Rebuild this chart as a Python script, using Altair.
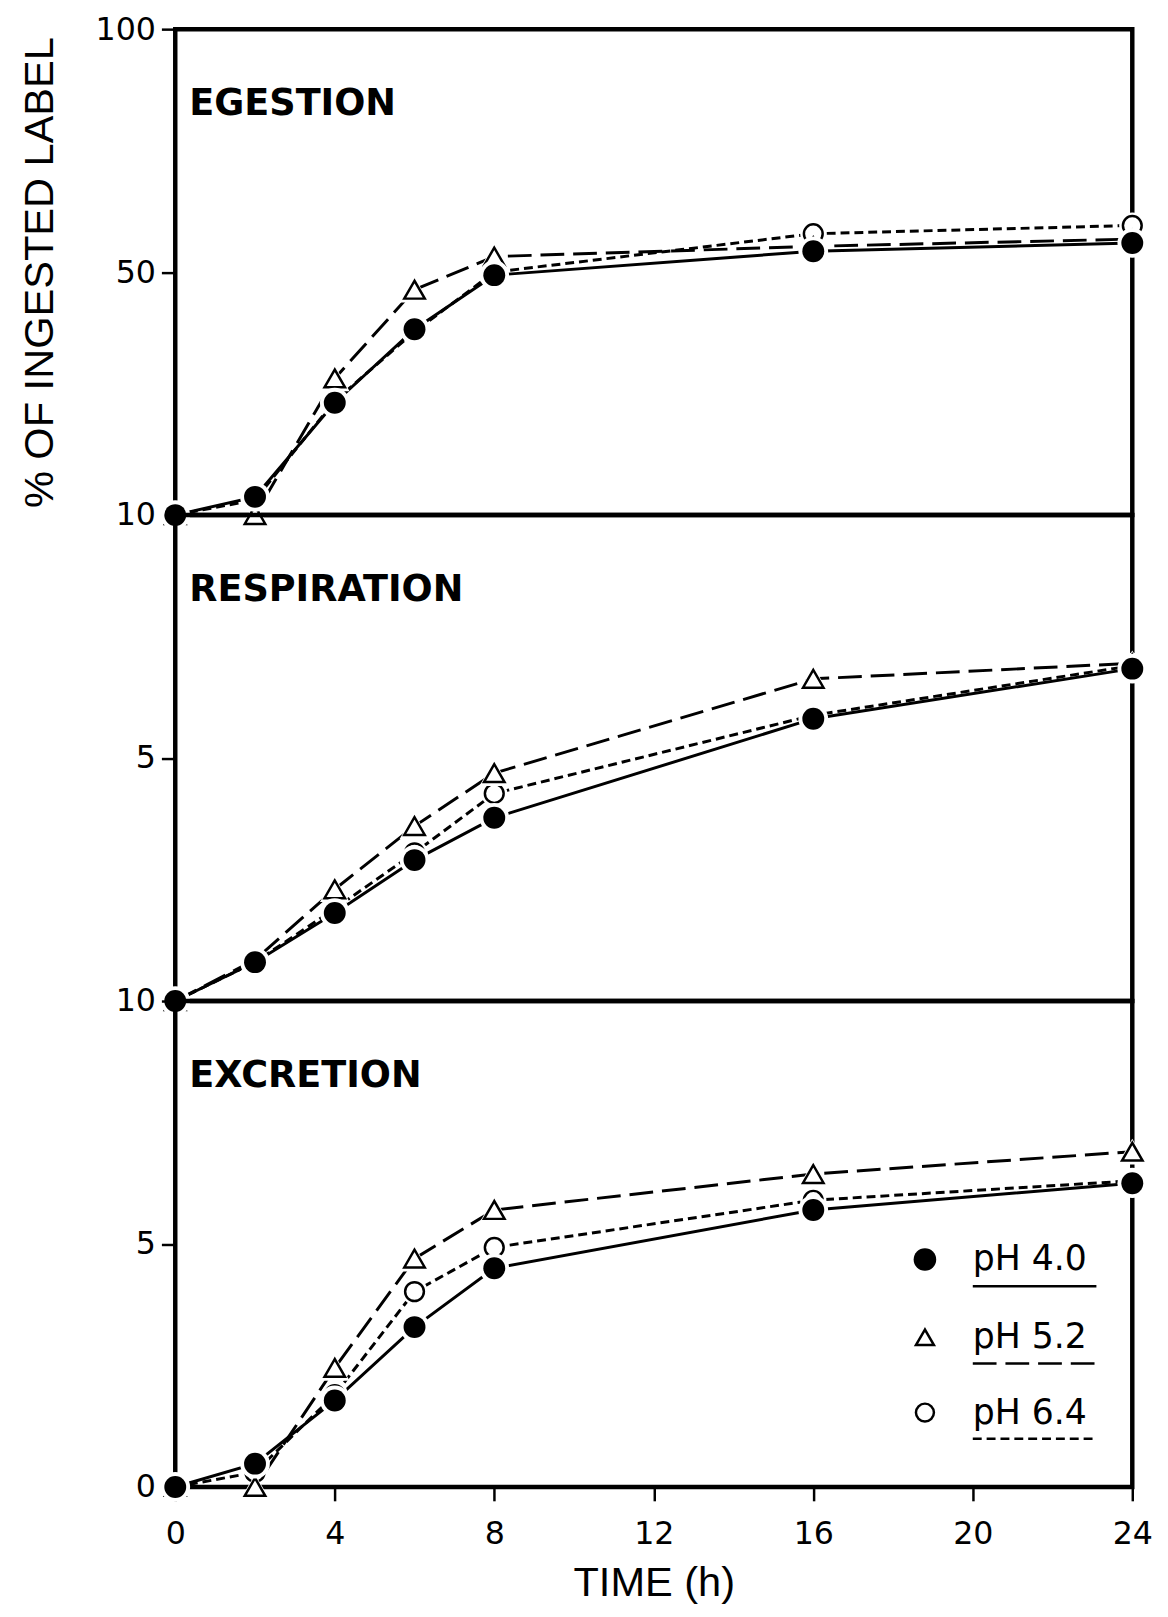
import altair as alt
import pandas as pd

# ---------------- data ----------------
time_h = [0, 2, 4, 6, 8, 16, 24]
series_names = ["pH 4.0", "pH 5.2", "pH 6.4"]

egestion_ph40 = [10.0, 13.0, 28.5, 40.6, 49.5, 54.3, 56.0]
egestion_ph52 = [10.0, 10.0, 32.5, 47.1, 53.2, 55.3, 56.8]
egestion_ph64 = [10.0, 12.5, 28.8, 40.2, 50.0, 57.9, 59.6]

respiration_ph40 = [0.0, 0.80, 1.81, 2.90, 3.77, 5.81, 6.84]
respiration_ph52 = [0.0, 0.85, 2.30, 3.60, 4.69, 6.63, 6.95]
respiration_ph64 = [0.0, 0.80, 1.90, 3.05, 4.27, 5.88, 6.90]

excretion_ph40 = [0.0, 0.48, 1.78, 3.29, 4.50, 5.70, 6.25]
excretion_ph52 = [0.0, 0.00, 2.45, 4.70, 5.70, 6.44, 6.90]
excretion_ph64 = [0.0, 0.30, 1.90, 4.02, 4.93, 5.90, 6.30]

x_ticks = [0, 4, 8, 12, 16, 20, 24]
egestion_ticks = [10, 50, 100]
respiration_ticks = [5]
excretion_ticks = [0, 5, 10]

panel_titles = ["EGESTION", "RESPIRATION", "EXCRETION"]

# annotation placement (data units)
title_time = 0.35
title_values = [84.5, 8.45, 8.45]
legend_sym_time = 18.8
legend_txt_time = 20.0
legend_line_end = 23.1
legend_sym_values = [4.68, 3.08, 1.53]
legend_line_values = [4.13, 2.54, 0.99]

# ---------------- styling ----------------
W = 967
H = 491
DASH = {"pH 4.0": None, "pH 5.2": [24, 9], "pH 6.4": [9, 5]}
MARK = {
    "pH 4.0": dict(shape="circle", fill="black", stroke="black", strokeWidth=0, size=490),
    "pH 5.2": dict(shape="triangle-up", fill="white", stroke="black", strokeWidth=2.5, size=430),
    "pH 6.4": dict(shape="circle", fill="white", stroke="black", strokeWidth=2.5, size=360),
}
LEGEND_SIZE = {"pH 4.0": 520, "pH 5.2": 330, "pH 6.4": 330}
HALO = {"pH 4.0": 900, "pH 5.2": 900, "pH 6.4": 700}
DRAW_ORDER = ["pH 6.4", "pH 5.2", "pH 4.0"]
XSCALE = alt.Scale(domain=[0, 24], nice=False, zero=False)


def make_df(values):
    rows = []
    for s, vals in zip(series_names, values):
        for t, v in zip(time_h, vals):
            rows.append({"time": t, "value": v, "series": s})
    return pd.DataFrame(rows)


def panel(values, yscale, yaxis, xaxis, title, title_value, legend=False):
    df = make_df(values)
    x = alt.X("time:Q", scale=XSCALE, axis=xaxis)
    y = alt.Y("value:Q", scale=yscale, axis=yaxis)
    base = alt.Chart(df)
    layers = []
    for s in series_names:
        kw = dict(color="black", strokeWidth=3)
        if DASH[s]:
            kw["strokeDash"] = DASH[s]
        layers.append(
            base.transform_filter(alt.datum.series == s).mark_line(**kw).encode(x=x, y=y)
        )
    for s in DRAW_ORDER:
        m = MARK[s]
        layers.append(
            base.transform_filter(alt.datum.series == s)
            .mark_point(shape=m["shape"], filled=True, color="white", opacity=1, size=HALO[s])
            .encode(x=x, y=y)
        )
        layers.append(
            base.transform_filter(alt.datum.series == s)
            .mark_point(shape=m["shape"], filled=True, fill=m["fill"], stroke=m["stroke"],
                        strokeWidth=m["strokeWidth"], opacity=1, size=m["size"])
            .encode(x=x, y=y)
        )
    tdf = pd.DataFrame({"time": [title_time], "value": [title_value], "label": [title]})
    layers.append(
        alt.Chart(tdf).mark_text(align="left", baseline="middle", font="DejaVu Sans",
                                 fontWeight="bold", fontSize=37, color="black")
        .encode(x=x, y=y, text="label:N")
    )
    if legend:
        ldf = pd.DataFrame({
            "label": series_names,
            "time": [legend_sym_time] * 3,
            "value": legend_sym_values,
            "ttime": [legend_txt_time] * 3,
            "tend": [legend_line_end] * 3,
            "lvalue": legend_line_values,
        })
        lbase = alt.Chart(ldf)
        for s in series_names:
            m = MARK[s]
            layers.append(
                lbase.transform_filter(alt.datum.label == s)
                .mark_point(shape=m["shape"], filled=True, fill=m["fill"], stroke=m["stroke"],
                            strokeWidth=m["strokeWidth"], opacity=1, size=LEGEND_SIZE[s])
                .encode(x=x, y=y)
            )
            rkw = dict(color="black", strokeWidth=2.5)
            if DASH[s]:
                rkw["strokeDash"] = DASH[s]
            layers.append(
                lbase.transform_filter(alt.datum.label == s)
                .mark_rule(**rkw)
                .encode(x=alt.X("ttime:Q", scale=XSCALE, axis=xaxis),
                        x2="tend:Q",
                        y=alt.Y("lvalue:Q", scale=yscale, axis=yaxis))
            )
        layers.append(
            lbase.mark_text(align="left", baseline="middle", font="DejaVu Sans",
                            fontSize=35, color="black")
            .encode(x=alt.X("ttime:Q", scale=XSCALE, axis=xaxis),
                    y=y, text="label:N")
        )
    return alt.layer(*layers).properties(width=W, height=H)


top = panel(
    [egestion_ph40, egestion_ph52, egestion_ph64],
    alt.Scale(domain=[10, 50, 100], range=[H, H / 2, 0]),
    alt.Axis(values=egestion_ticks, title="% OF INGESTED LABEL", titlePadding=34,
             titleFontSize=42),
    None,
    panel_titles[0], title_values[0],
)
mid = panel(
    [respiration_ph40, respiration_ph52, respiration_ph64],
    alt.Scale(domain=[0, 10], nice=False),
    alt.Axis(values=respiration_ticks, title=None),
    None,
    panel_titles[1], title_values[1],
)
bot = panel(
    [excretion_ph40, excretion_ph52, excretion_ph64],
    alt.Scale(domain=[0, 10], nice=False),
    alt.Axis(values=excretion_ticks, title=None),
    alt.Axis(values=x_ticks, title="TIME (h)", labelFlush=False, labelPadding=18,
             titlePadding=14, titleFontSize=42),
    panel_titles[2], title_values[2], legend=True,
)

chart = (
    alt.vconcat(top, mid, bot, spacing=0, bounds="flush")
    .properties(padding={"left": 8, "top": -6, "right": 5, "bottom": 0}, background="white")
    .configure_view(stroke="black", strokeWidth=4.5)
    .configure_axis(
        labelFont="DejaVu Sans", labelFontSize=32, labelColor="black",
        titleFont="Liberation Sans", titleFontWeight="normal", titleColor="black",
        tickColor="black", tickWidth=2.5, tickSize=14, labelPadding=6,
        domain=False, grid=False,
    )
)

chart.save("out.html", embed_options={"renderer": "svg", "actions": False})
